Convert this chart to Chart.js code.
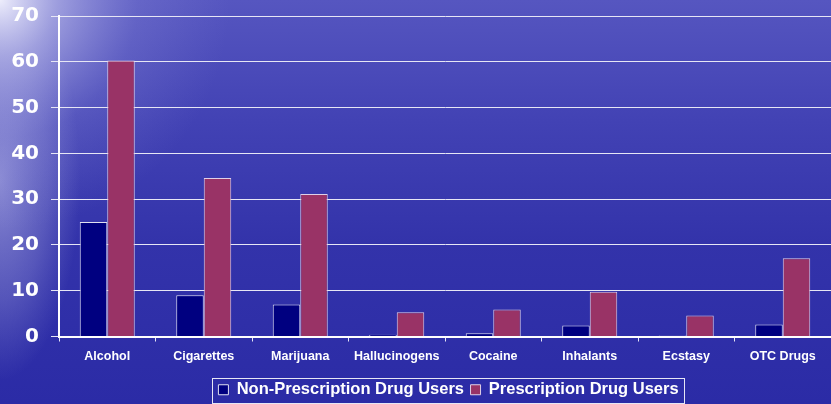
<!DOCTYPE html>
<html><head><meta charset="utf-8">
<script src="https://cdn.jsdelivr.net/npm/chart.js@4/dist/chart.umd.min.js"></script>
<style>html,body{margin:0;padding:0;background:#2a2aa6;}#wrap{width:831px;height:404px;position:relative;}</style>
</head><body><div id="wrap"><canvas id="c" width="831" height="404"></canvas></div>
<script>
const categories = ["Alcohol","Cigarettes","Marijuana","Hallucinogens","Cocaine","Inhalants","Ecstasy","OTC Drugs"];
const nonPrescription = [25, 9, 7, 0.4, 0.7, 2.4, 0.2, 2.6];
const prescription = [60.3, 34.6, 31.1, 5.3, 5.9, 9.8, 4.6, 17.1];
const seriesNames = ["Non-Prescription Drug Users","Prescription Drug Users"];

const LEG_PAD = 6.5, LEG_FONT = 16.5;

const bgPlugin = {
  id:'bg',
  afterLayout(chart){
    const lg = chart.legend; if(!lg) return;
    lg.top += 4; lg.bottom += 4; lg.left += 3.5; lg.right += 3.5;
  },
  beforeDraw(chart){
    const ctx = chart.ctx, w = chart.width, h = chart.height;
    ctx.save();
    let g = ctx.createLinearGradient(0,0,0,h);
    g.addColorStop(0,'#5656c0');
    g.addColorStop(0.3,'#4242b4');
    g.addColorStop(0.6,'#3333aa');
    g.addColorStop(1,'#2b2ba6');
    ctx.fillStyle = g; ctx.fillRect(0,0,w,h);
    ctx.save();
    ctx.translate(0,180); ctx.scale(0.4,1);
    let e = ctx.createRadialGradient(0,0,0,0,0,200);
    e.addColorStop(0,'rgba(190,190,235,0.6)');
    e.addColorStop(0.6,'rgba(170,170,225,0.3)');
    e.addColorStop(1,'rgba(160,160,220,0)');
    ctx.fillStyle = e; ctx.fillRect(0,-200,500,400);
    ctx.restore();
    let r = ctx.createRadialGradient(0,0,0,0,0,230);
    r.addColorStop(0,'rgba(245,245,255,0.95)');
    r.addColorStop(0.25,'rgba(205,205,242,0.6)');
    r.addColorStop(0.6,'rgba(165,165,228,0.2)');
    r.addColorStop(1,'rgba(150,150,220,0)');
    ctx.fillStyle = r; ctx.fillRect(0,0,w,h);
    ctx.restore();
  },
  afterDraw(chart){
    const lg = chart.legend; if(!lg || !lg.legendHitBoxes.length) return;
    const hb = lg.legendHitBoxes;
    let x0 = Math.min(...hb.map(b=>b.left)) - 6;
    let x1 = Math.max(...hb.map(b=>b.left+b.width)) + 6;
    let y0 = lg.top + LEG_PAD - 4;
    let y1 = lg.top + LEG_PAD + LEG_FONT + 4;
    const ctx = chart.ctx; ctx.save();
    ctx.strokeStyle = '#e6e6f5'; ctx.lineWidth = 1;
    ctx.strokeRect(Math.round(x0)+0.5, Math.round(y0)+0.5, Math.round(x1-x0), Math.round(y1-y0));
    ctx.restore();
  }
};

new Chart(document.getElementById('c'), {
  type:'bar',
  data:{
    labels: categories,
    datasets:[
      {label: seriesNames[0], data: nonPrescription, backgroundColor:'#000080', borderColor:'#e0e0f0', borderWidth:1},
      {label: seriesNames[1], data: prescription, backgroundColor:'#993366', borderColor:'#e0d0e8', borderWidth:1}
    ]
  },
  options:{
    responsive:false, animation:false,
    layout:{padding:{top:0,right:0,bottom:0,left:0}},
    datasets:{bar:{categoryPercentage:0.57, barPercentage:1}},
    plugins:{
      legend:{position:'bottom', fullSize:false, labels:{color:'#ffffff', boxWidth:10, boxHeight:10, padding:LEG_PAD, font:{family:'Liberation Sans, Arial', weight:'bold', size:LEG_FONT}}},
      tooltip:{enabled:false}
    },
    scales:{
      x:{
        afterFit(s){ s.height = 34.5; },
        grid:{display:true, drawOnChartArea:false, color:'#e6e6f5', tickLength:5, offset:true},
        border:{color:'#ffffff', width:2},
        ticks:{color:'#ffffff', font:{family:'Liberation Sans, Arial', weight:'bold', size:12.5}, maxRotation:0, padding:8}
      },
      y:{
        min:0, max:70,
        afterFit(s){ s.width = 59; s.paddingTop = 16; s.paddingBottom = 0; },
        grid:{color:'#e6e6f5', lineWidth:1, tickLength:8},
        border:{color:'#ffffff', width:2},
        ticks:{stepSize:10, color:'#ffffff', padding:12, font:{family:'DejaVu Sans, Verdana', weight:'bold', size:20}}
      }
    }
  },
  plugins:[bgPlugin]
});
</script></body></html>
